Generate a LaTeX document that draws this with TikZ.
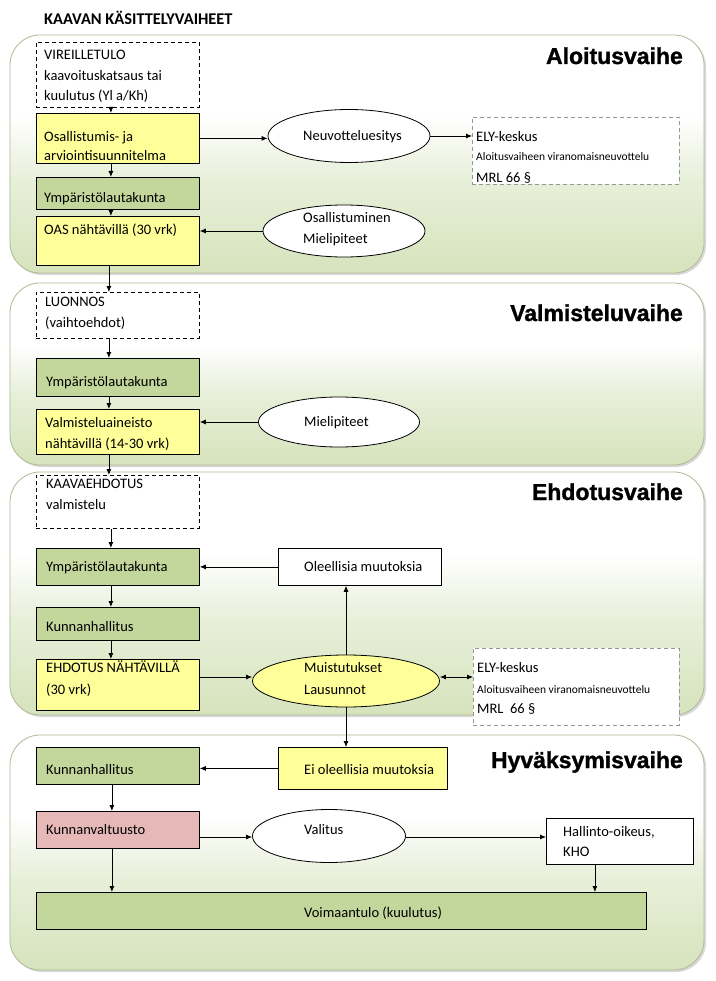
\documentclass[tikz,border=0pt]{standalone}
\usepackage{fontspec}
\setmainfont{Carlito}
\newfontfamily\phasefont{Liberation Sans}[BoldFeatures={FakeBold=1.3}]
\usetikzlibrary{shapes.geometric,arrows.meta,shadows}
\definecolor{yel}{RGB}{255,255,153}
\definecolor{grn}{RGB}{195,214,155}
\definecolor{pnk}{RGB}{230,185,184}
\definecolor{pgreen}{RGB}{214,227,188}
\definecolor{pborder}{RGB}{175,185,150}
\definecolor{dgray}{RGB}{150,150,150}
\pgfdeclareverticalshading{panelshade}{100bp}{color(0bp)=(pgreen); color(25bp)=(pgreen); color(45bp)=(pgreen!55!white); color(58bp)=(white); color(100bp)=(white)}
\begin{document}
\begin{tikzpicture}[x=1pt,y=-1pt,
  panel/.style={rounded corners=30pt, draw=pborder, line width=0.8pt, shading=panelshade,
    drop shadow={opacity=0.3, shadow xshift=2pt, shadow yshift=-2pt}},
  box/.style={draw, line width=0.8pt, anchor=north west, inner sep=0pt},
  dbox/.style={box, fill=white, dash pattern=on 4pt off 3pt},
  gbox/.style={box, draw=dgray, fill=white, dash pattern=on 4pt off 3pt},
  ell/.style={ellipse, draw, line width=0.8pt, fill=white, inner sep=0pt},
  txt/.style={anchor=base west, inner sep=0pt, yshift=-4.5pt, font=\fontsize{14.5}{17}\selectfont},
  stxt/.style={anchor=base west, inner sep=0pt, yshift=-3.6pt, font=\fontsize{11.5}{13}\selectfont},
  ptitle/.style={anchor=base east, inner sep=0pt, yshift=-8pt, font=\phasefont\bfseries\fontsize{23}{26}\selectfont},
  arr/.style={-{Latex[length=6pt,width=5pt]}, line width=0.8pt},
  darr/.style={{Latex[length=6pt,width=5pt]}-{Latex[length=6pt,width=5pt]}, line width=0.8pt}
]
\useasboundingbox (0,0) rectangle (715,981);
\fill[white] (0,0) rectangle (715,981);

% title
\node[anchor=base west, inner sep=0pt, yshift=-5pt, font=\bfseries\fontsize{16.4}{19}\selectfont] (title) at (44,20) {KAAVAN KÄSITTELYVAIHEET};

% panels
\path[panel] (10,35) rectangle (704,273);
\path[panel] (10,283) rectangle (704,465);
\path[panel] (10,472) rectangle (704,715);
\path[panel] (10,735) rectangle (704,970);

\node[ptitle] (p1) at (683,56) {Aloitusvaihe};
\node[ptitle] (p2) at (683,313) {Valmisteluvaihe};
\node[ptitle] (p3) at (683,492) {Ehdotusvaihe};
\node[ptitle] (p4) at (683,760) {Hyväksymisvaihe};

% ---- Aloitusvaihe
\node[dbox, minimum width=163pt, minimum height=65pt] (vir) at (36,42) {};
\node[txt] (vir1) at (44,55) {VIREILLETULO};
\node[txt] (vir2) at (44,76) {kaavoituskatsaus tai};
\node[txt] (vir3) at (44,96) {kuulutus (Yl a/Kh)};

\node[box, fill=yel, minimum width=163pt, minimum height=50pt] (osa) at (36,113) {};
\node[txt] (osa1) at (44,137) {Osallistumis- ja};
\node[txt] (osa2) at (44,156) {arviointisuunnitelma};

\node[box, fill=grn, minimum width=163pt, minimum height=32pt] (ymp1) at (36,177) {};
\node[txt] (ymp1t) at (44,198) {Ympäristölautakunta};

\node[box, fill=yel, minimum width=163pt, minimum height=49pt] (oas) at (36,216) {};
\node[txt] (oast) at (44,230) {OAS nähtävillä (30 vrk)};

\node[ell, minimum width=162pt, minimum height=53pt] (neu) at (349,136) {};
\node[txt] (neut) at (303,136) {Neuvotteluesitys};

\node[gbox, minimum width=207pt, minimum height=67pt] (ely1) at (472,117) {};
\node[txt] (ely1a) at (476,137) {ELY-keskus};
\node[stxt] (ely1b) at (476,157) {Aloitusvaiheen viranomaisneuvottelu};
\node[txt] (ely1c) at (476,178) {MRL 66 §};

\node[ell, minimum width=162pt, minimum height=52pt] (osm) at (344,231) {};
\node[txt] (osm1) at (303,218) {Osallistuminen};
\node[txt] (osm2) at (303,239) {Mielipiteet};

% ---- Valmisteluvaihe
\node[dbox, minimum width=163pt, minimum height=46pt] (lu) at (36,292) {};
\node[txt] (lu1) at (45,302) {LUONNOS};
\node[txt] (lu2) at (45,323) {(vaihtoehdot)};

\node[box, fill=grn, minimum width=163pt, minimum height=38pt] (ymp2) at (36,358) {};
\node[txt] (ymp2t) at (46,382) {Ympäristölautakunta};

\node[box, fill=yel, minimum width=163pt, minimum height=45pt] (valm) at (36,409) {};
\node[txt] (valm1) at (45,423) {Valmisteluaineisto};
\node[txt] (valm2) at (45,444) {nähtävillä (14-30 vrk)};

\node[ell, minimum width=161pt, minimum height=50pt] (mie) at (339,422) {};
\node[txt] (miet) at (304,422) {Mielipiteet};

% ---- Ehdotusvaihe
\node[dbox, minimum width=163pt, minimum height=53pt] (ka) at (36,475) {};
\node[txt] (ka1) at (46,484) {KAAVAEHDOTUS};
\node[txt] (ka2) at (46,505) {valmistelu};

\node[box, fill=grn, minimum width=163pt, minimum height=37pt] (ymp3) at (36,548) {};
\node[txt] (ymp3t) at (46,567) {Ympäristölautakunta};

\node[box, fill=grn, minimum width=163pt, minimum height=33pt] (kh3) at (36,607) {};
\node[txt] (kh3t) at (46,627) {Kunnanhallitus};

\node[box, fill=yel, minimum width=163pt, minimum height=51pt] (ehd) at (36,659) {};
\node[txt] (ehd1) at (46,668) {EHDOTUS NÄHTÄVILLÄ};
\node[txt] (ehd2) at (46,690) {(30 vrk)};

\node[box, fill=white, minimum width=163pt, minimum height=37pt] (ole) at (278,548) {};
\node[txt] (olet) at (304,567) {Oleellisia muutoksia};

\node[ell, fill=yel, minimum width=187pt, minimum height=52pt] (mus) at (346,681) {};
\node[txt] (mus1) at (304,668) {Muistutukset};
\node[txt] (mus2) at (304,690) {Lausunnot};

\node[gbox, minimum width=206pt, minimum height=77pt] (ely2) at (473,648) {};
\node[txt] (ely2a) at (477,668) {ELY-keskus};
\node[stxt] (ely2b) at (477,690) {Aloitusvaiheen viranomaisneuvottelu};
\node[txt] (ely2c) at (477,709) {MRL\ \ 66 §};

% ---- Hyväksymisvaihe
\node[box, fill=grn, minimum width=163pt, minimum height=37pt] (kh4) at (36,747) {};
\node[txt] (kh4t) at (46,770) {Kunnanhallitus};

\node[box, fill=yel, minimum width=169pt, minimum height=42pt] (eio) at (278,747) {};
\node[txt] (eiot) at (304,770) {Ei oleellisia muutoksia};

\node[box, fill=pnk, minimum width=163pt, minimum height=37pt] (kv) at (36,811) {};
\node[txt] (kvt) at (46,830) {Kunnanvaltuusto};

\node[ell, minimum width=153pt, minimum height=53pt] (val) at (329,836) {};
\node[txt] (valt) at (304,830) {Valitus};

\node[box, fill=white, minimum width=147pt, minimum height=46pt] (hal) at (546,818) {};
\node[txt] (hal1) at (563,832) {Hallinto-oikeus,};
\node[txt] (hal2) at (563,852) {KHO};

\node[box, fill=grn, minimum width=610pt, minimum height=37pt] (voi) at (36,892) {};
\node[txt] (voit) at (304,913) {Voimaantulo (kuulutus)};

% ---- connectors
\draw[arr] ([xshift=-7pt]vir.south) -- ([xshift=-7pt]osa.north);
\draw[arr] ([xshift=-7pt]osa.south) -- ([xshift=-7pt]ymp1.north);
\draw[arr] ([xshift=-7pt]ymp1.south) -- ([xshift=-7pt]oas.north);
\draw[arr] (osa.east) -- (osa.east -| neu.west);
\draw[arr] (neu.east) -- (neu.east -| ely1.west);
\draw[arr] (osm.west) -- (osm.west -| oas.east);
\draw[arr] ([xshift=-9pt]oas.south) -- ([xshift=-9pt]lu.north);

\draw[arr] ([xshift=-9pt]lu.south) -- ([xshift=-9pt]ymp2.north);
\draw[arr] ([xshift=-9pt]ymp2.south) -- ([xshift=-9pt]valm.north);
\draw[arr] (mie.west) -- (mie.west -| valm.east);
\draw[arr] ([xshift=-9pt]valm.south) -- ([xshift=-9pt]ka.north);

\draw[arr] ([xshift=-7pt]ka.south) -- ([xshift=-7pt]ymp3.north);
\draw[arr] ([xshift=-7pt]ymp3.south) -- ([xshift=-7pt]kh3.north);
\draw[arr] ([xshift=-7pt]kh3.south) -- ([xshift=-7pt]ehd.north);
\draw[arr] ([yshift=4pt]mus.west -| ehd.east) -- ([yshift=4pt]mus.west);
\draw[darr] ([yshift=4pt]mus.east) -- ([yshift=4pt]mus.east -| ely2.west);
\draw[arr] (mus.north) -- (mus.north |- ole.south);
\draw[arr] (ole.west) -- (ole.west -| ymp3.east);
\draw[arr] (mus.south) -- (mus.south |- eio.north);

\draw[arr] (eio.west) -- (eio.west -| kh4.east);
\draw[arr] ([xshift=-6pt]kh4.south) -- ([xshift=-6pt]kv.north);
\draw[arr] ([yshift=-1pt]val.west -| kv.east) -- ([yshift=-1pt]val.west);
\draw[arr] ([yshift=-1pt]val.east) -- ([yshift=-1pt]val.east -| hal.west);
\draw[arr] ([xshift=-6pt]kv.south) -- ([xshift=-6pt]kv.south |- voi.north);
\draw[arr] ([xshift=-25pt]hal.south) -- ([xshift=-25pt]hal.south |- voi.north);
\end{tikzpicture}
\end{document}
